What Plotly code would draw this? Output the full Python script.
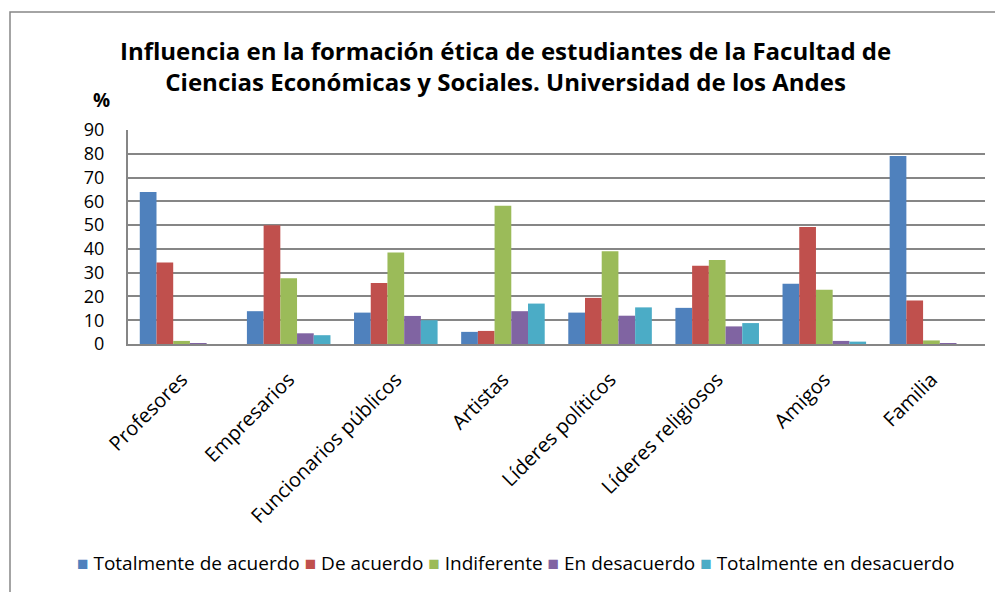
import plotly.graph_objects as go

categories = ["Profesores", "Empresarios", "Funcionarios públicos", "Artistas",
              "Líderes políticos", "Líderes religiosos", "Amigos", "Familia"]

totalmente_de_acuerdo = [63.9, 13.8, 13.2, 5.1, 13.2, 15.2, 25.3, 79.1]
de_acuerdo = [34.3, 49.9, 25.7, 5.5, 19.4, 32.9, 49.2, 18.3]
indiferente = [1.3, 27.7, 38.5, 58.1, 39.0, 35.3, 22.8, 1.5]
en_desacuerdo = [0.3, 4.5, 11.8, 13.8, 11.9, 7.4, 1.3, 0.3]
totalmente_en_desacuerdo = [0.0, 3.7, 10.0, 17.0, 15.4, 8.8, 1.0, 0.0]

series_names = ["Totalmente de acuerdo", "De acuerdo", "Indiferente",
                "En desacuerdo", "Totalmente en desacuerdo"]
series_values = [totalmente_de_acuerdo, de_acuerdo, indiferente,
                 en_desacuerdo, totalmente_en_desacuerdo]
series_colors = ["#4F81BD", "#C0504D", "#9BBB59", "#8064A2", "#4BACC6"]

FONT = "Open Sans, sans-serif"

fig = go.Figure()
for name, vals, color in zip(series_names, series_values, series_colors):
    fig.add_trace(go.Bar(x=categories, y=vals, name=name,
                         marker=dict(color=color, line=dict(width=0))))

W, H = 995, 592
L, R, T, B = 128, 10, 130, 248
pw, ph = W - L - R, H - T - B

def px(x):
    return (x - L) / pw

def py(y):
    return (H - B - y) / ph

legend_text = " ".join(
    f"<span style='color:{c}'>■</span> {n}" for n, c in zip(series_names, series_colors)
)

fig.update_layout(
    width=W, height=H,
    margin=dict(l=L, r=R, t=T, b=B),
    paper_bgcolor="white", plot_bgcolor="white",
    barmode="group", bargap=0.22, bargroupgap=0,
    font=dict(family=FONT, color="black"),
    showlegend=False,
    xaxis=dict(showline=True, linecolor="#868686", linewidth=2, tickangle=-45,
               tickfont=dict(size=20, family=FONT), ticks="", ticklabelstandoff=14),
    yaxis=dict(range=[0, 90], dtick=10, showline=True, linecolor="#868686", linewidth=2,
               gridcolor="#868686", gridwidth=2, tickfont=dict(size=18, family=FONT),
               ticks="", zeroline=False, ticklabelstandoff=18),
    annotations=[
        dict(text="<b>Influencia en la formación ética de estudiantes de la Facultad de<br>"
                  "Ciencias Económicas y Sociales. Universidad de los Andes</b>",
             xref="paper", yref="paper", x=px(505), y=py(66), xanchor="center", yanchor="middle",
             showarrow=False, font=dict(size=24, family=FONT)),
        dict(text="<b>%</b>", xref="paper", yref="paper", x=px(101), y=py(100),
             xanchor="center", yanchor="middle", showarrow=False, font=dict(size=19, family=FONT)),
        dict(text=legend_text, xref="paper", yref="paper", x=px(515), y=py(563),
             xanchor="center", yanchor="middle", showarrow=False,
             font=dict(size=19, family=FONT)),
    ],
    shapes=[dict(type="rect", xref="paper", yref="paper",
                 x0=px(10), x1=px(1010), y0=py(620), y1=py(12),
                 line=dict(color="#868686", width=1.5), fillcolor="rgba(0,0,0,0)", layer="below")],
)

fig.write_html("out.html", config={"displayModeBar": False},
               post_script="document.body.style.margin='0';")
